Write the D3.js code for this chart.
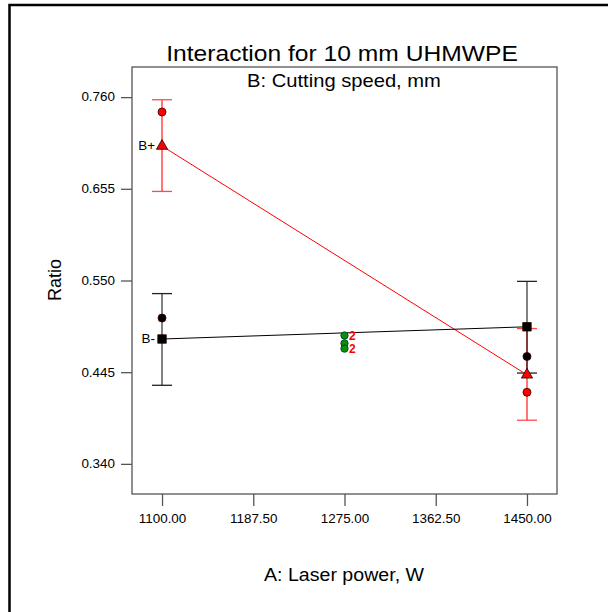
<!DOCTYPE html>
<html>
<head>
<meta charset="utf-8">
<script src="https://cdn.jsdelivr.net/npm/d3@7"></script>
<style>
  body { margin: 0; background: #fff; }
  text { font-family: "Liberation Sans", Arial, sans-serif; fill: #000; }
</style>
</head>
<body>
<svg width="608" height="612"></svg>
<script>
// Niveis do fator A e medias / intervalos para B+ e B-
const levelsA = [1100, 1450];
const bPlusMean = [0.704, 0.442];
const bPlusLow = [0.652, 0.390];
const bPlusHigh = [0.757, 0.495];
const bPlusObs = [0.743, 0.422];
const bMinusMean = [0.483, 0.497];
const bMinusLow = [0.430, 0.444];
const bMinusHigh = [0.535, 0.549];
const bMinusObs = [0.507, 0.463];
// Pontos centrais
const centerA = 1275;
const centerObs = [0.487, 0.478, 0.472];
const centerCount = ["2", "", "2"];
// Ticks
const xTicks = [1100, 1187.5, 1275, 1362.5, 1450];
const yTicks = [0.340, 0.445, 0.550, 0.655, 0.760];

const stretch = 1.12;
const plot = { left: 132, right: 557, top: 67, bottom: 494 };

const svg = d3.select("svg");

const xScale = d3.scaleLinear().domain([1071.2, 1478.8]).range([plot.left, plot.right]);
const yScale = d3.scaleLinear().domain([0.3055, 0.7945]).range([plot.bottom, plot.top]);

function label(x, y, str, size, anchor) {
    return svg.append("text")
        .attr("transform", `translate(${x},${y}) scale(${stretch},1)`)
        .attr("text-anchor", anchor)
        .style("font-size", size + "px")
        .text(str);
}

// Moldura externa (cortada a direita e embaixo)
svg.append("rect")
    .attr("x", 9.5).attr("y", 5)
    .attr("width", 700).attr("height", 700)
    .attr("fill", "none").attr("stroke", "#000").attr("stroke-width", 2.5);

// Area do grafico
svg.append("rect")
    .attr("x", plot.left).attr("y", plot.top)
    .attr("width", plot.right - plot.left).attr("height", plot.bottom - plot.top)
    .attr("fill", "none").attr("stroke", "#555").attr("stroke-width", 1.3);

// Eixo Y
const yAxisGroup = svg.append("g").attr("transform", `translate(${plot.left},0)`);
yAxisGroup.call(d3.axisLeft(yScale).tickValues(yTicks).tickFormat(d3.format(".3f")).tickSize(11).tickSizeOuter(0));
yAxisGroup.select(".domain").remove();
yAxisGroup.selectAll("line").attr("stroke", "#555").attr("stroke-width", 1.3);
yAxisGroup.selectAll("text")
    .attr("x", -17 / stretch)
    .attr("transform", `scale(${stretch},1)`)
    .style("font-size", "12px").style("font-family", "Liberation Sans, Arial, sans-serif");

// Eixo X
const xAxisGroup = svg.append("g").attr("transform", `translate(0,${plot.bottom})`);
xAxisGroup.call(d3.axisBottom(xScale).tickValues(xTicks).tickFormat(d3.format(".2f")).tickSize(12).tickSizeOuter(0).tickPadding(8.5));
xAxisGroup.select(".domain").remove();
xAxisGroup.selectAll("line").attr("stroke", "#555").attr("stroke-width", 1.3);
xAxisGroup.selectAll("text")
    .attr("transform", `scale(${stretch},1)`)
    .style("font-size", "12px").style("font-family", "Liberation Sans, Arial, sans-serif");

// Titulos
label(342, 61, "Interaction for 10 mm UHMWPE", 22, "middle");
label(344, 87, "B: Cutting speed, mm", 18, "middle");
label(344, 581, "A: Laser power, W", 17.5, "middle");
svg.append("text")
    .attr("transform", "translate(61,280) rotate(-90)")
    .attr("text-anchor", "middle")
    .style("font-size", "18px")
    .text("Ratio");

// Barras de erro
const series = [
    { mean: bPlusMean, low: bPlusLow, high: bPlusHigh, obs: bPlusObs, bar: "rgba(255,0,0,0.55)", cap: "#ff4a4a", line: "#ff0000", fill: "#ff0000", name: "B+", symbol: d3.symbolTriangle, size: 55 },
    { mean: bMinusMean, low: bMinusLow, high: bMinusHigh, obs: bMinusObs, bar: "rgba(0,0,0,0.5)", cap: "#222", line: "#000", fill: "#000", name: "B-", symbol: d3.symbolSquare, size: 72 }
];

series.forEach(s => {
    const g = svg.append("g");
    g.selectAll("line.bar").data(levelsA).enter().append("line")
        .attr("x1", d => xScale(d)).attr("x2", d => xScale(d))
        .attr("y1", (d, i) => yScale(s.low[i])).attr("y2", (d, i) => yScale(s.high[i]))
        .attr("stroke", s.bar).attr("stroke-width", 2);
    ["low", "high"].forEach(k => {
        g.selectAll("line.cap-" + k).data(levelsA).enter().append("line")
            .attr("x1", d => xScale(d) - 10).attr("x2", d => xScale(d) + 10)
            .attr("y1", (d, i) => yScale(s[k][i])).attr("y2", (d, i) => yScale(s[k][i]))
            .attr("stroke", s.cap).attr("stroke-width", 1.3);
    });
});

// Linhas de interacao
series.forEach(s => {
    svg.append("path")
        .datum(levelsA.map((a, i) => [a, s.mean[i]]))
        .attr("fill", "none")
        .attr("stroke", s.line)
        .attr("stroke-width", 1)
        .attr("d", d3.line().x(d => xScale(d[0])).y(d => yScale(d[1])));
});

// Observacoes e medias
series.forEach(s => {
    svg.append("g").selectAll("circle").data(levelsA).enter().append("circle")
        .attr("cx", d => xScale(d)).attr("cy", (d, i) => yScale(s.obs[i]))
        .attr("r", 4)
        .attr("fill", s.fill).attr("stroke", "#300").attr("stroke-width", 0.8);
    svg.append("g").selectAll("path").data(levelsA).enter().append("path")
        .attr("transform", (d, i) => `translate(${xScale(d)},${yScale(s.mean[i])})`)
        .attr("d", d3.symbol().type(s.symbol).size(s.size))
        .attr("fill", s.fill).attr("stroke", "#200").attr("stroke-width", 0.8);
    label(xScale(levelsA[0]) - 7, yScale(s.mean[0]) + 4, s.name, 12, "end");
});

// Pontos centrais
svg.append("g").selectAll("circle").data(centerObs).enter().append("circle")
    .attr("cx", xScale(centerA)).attr("cy", d => yScale(d))
    .attr("r", 3.7)
    .attr("fill", "#0a8f0a").attr("stroke", "#033").attr("stroke-width", 0.8);
svg.append("g").selectAll("text").data(centerObs).enter().append("text")
    .attr("x", xScale(centerA) + 4.5).attr("y", d => yScale(d) + 4.5)
    .style("font-size", "12px").style("font-weight", "bold").style("fill", "#ff0000")
    .text((d, i) => centerCount[i]);
</script>
</body>
</html>
